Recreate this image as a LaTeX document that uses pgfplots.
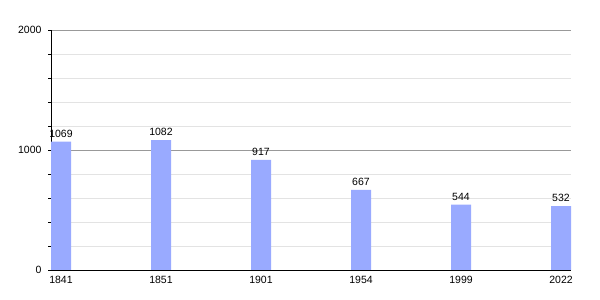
\documentclass[border=0pt]{standalone}
\usepackage{fontspec}
\setmainfont{Liberation Sans}
\usepackage{pgfplots}
\pgfplotsset{compat=1.18}
\definecolor{barblue}{RGB}{153,170,255}
\begin{document}
\begin{tikzpicture}
\path[use as bounding box] (0,0) rectangle (600pt,300pt);
\begin{axis}[
  at={(51pt,30pt)}, anchor=south west,
  scale only axis, width=520pt, height=240pt,
  xmin=-0.1, xmax=5.1, ymin=0, ymax=2000,
  axis lines=left, axis line style={-, black},
  /pgf/number format/assume math mode=true,
  /pgf/number format/1000 sep={},
  ybar, bar width=20pt,
  xtick=data, xticklabels={1841,1851,1901,1954,1999,2022},
  x tick style={draw=none},
  ytick={0,1000,2000}, minor y tick num=4,
  tick align=outside, major tick length=3pt, minor tick length=3pt,
  y tick style={black},
  ymajorgrids, yminorgrids,
  major grid style={gray!80, line width=0.6pt},
  minor grid style={gray!22, line width=0.6pt},
  tick label style={font=\fontsize{10.5}{12}\selectfont},
  yticklabel style={xshift=-3pt},
  nodes near coords,
  nodes near coords style={font=\fontsize{10.5}{12}\selectfont, black, yshift=1pt},
]
\addplot[fill=barblue, draw=none] coordinates {(0,1069) (1,1082) (2,917) (3,667) (4,544) (5,532)};
\end{axis}
\end{tikzpicture}
\end{document}
